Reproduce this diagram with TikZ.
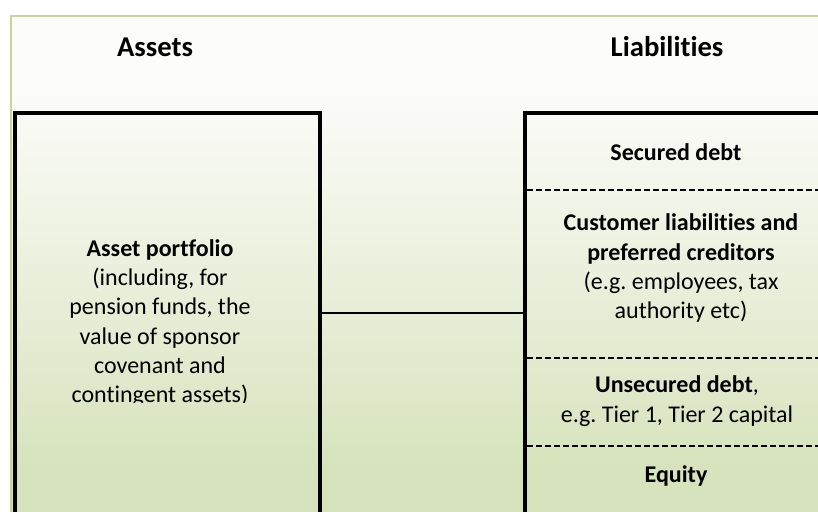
\documentclass[tikz,border=0pt]{standalone}
\usepackage{fontspec}
\setmainfont{Carlito}[Ligatures={NoCommon}]
\frenchspacing
\definecolor{frameg}{HTML}{C3D69B}
\definecolor{topfill}{HTML}{FCFCFA}
\definecolor{botfill}{HTML}{D7E3BC}
\tikzset{
  blockbox/.style={draw=black, line width=3pt, fill=none, inner sep=0pt,
    minimum width=228.4pt, minimum height=300.75pt},
  divider/.style={draw=black, line width=1.5pt, dash pattern=on 4.5pt off 2.25pt},
  link/.style={draw=black, line width=1.5pt},
  header/.style={font=\bfseries\fontsize{21.5}{26}\selectfont, inner sep=0pt},
  bodytext/.style={font=\fontsize{18}{22}\selectfont, align=center, inner sep=0pt}
}
\begin{document}
\begin{tikzpicture}[x=0.75pt,y=-0.75pt]
\useasboundingbox (0,0) rectangle (818,511);
\fill[white] (0,0) rectangle (818,511);
% gradient background
\fill[topfill] (10.5,15.5) rectangle (830,90);
\shade[top color=topfill, bottom color=botfill] (10.5,89.5) rectangle (830,470);
\fill[botfill] (10.5,469.5) rectangle (830,530);
\draw[frameg, line width=1.5pt] (10.5,530) -- (10.5,15.5) -- (830,15.5);
% headers
\node[header] (hA) at (155,47) {Assets};
\node[header] (hL) at (667,47) {Liabilities};
% boxes
\node[blockbox] (assets) at (167.25,313) {};
\node[blockbox] (liab) at (677.25,313) {};
\draw[link] (assets.east) -- (liab.west);
% dividers
\draw[divider] (527,190) -- (830,190);
\draw[divider] (527,358) -- (830,358);
\draw[divider] (527,446) -- (830,446);
% left text (clipped at bottom)
\begin{scope}
\clip (17,115) rectangle (317,402);
\node[bodytext] (ap) at (160,323) {\textbf{Asset portfolio}\\(including, for\\pension funds, the\\value of sponsor\\covenant and\\contingent assets)};
\end{scope}
% right texts
\node[bodytext] (sd) at (676,152) {\textbf{Secured debt}};
\node[bodytext] (cl) at (681,268.5) {\textbf{Customer liabilities and}\\\textbf{preferred creditors}\\(e.g. employees, tax\\authority etc)};
\node[bodytext] (ud) at (677,401) {\textbf{Unsecured debt},\\e.g. Tier 1, Tier 2 capital};
\node[bodytext] (eq) at (676,476) {\textbf{Equity}};
\end{tikzpicture}
\end{document}
